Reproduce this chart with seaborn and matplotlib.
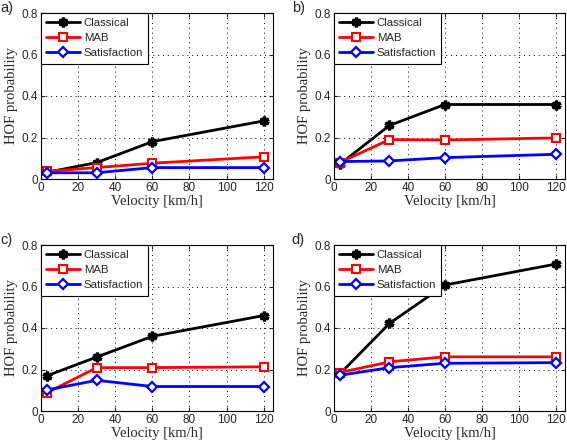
import matplotlib
matplotlib.use("Agg")
import matplotlib.pyplot as plt
import seaborn as sns
import pandas as pd
from matplotlib.lines import Line2D

velocity = [3, 30, 60, 120]
series_names = ["Classical", "MAB", "Satisfaction"]
panel_labels = ["a)", "b)", "c)", "d)"]

a_classical = [0.032, 0.079, 0.18, 0.28]
a_mab = [0.037, 0.055, 0.076, 0.107]
a_satisfaction = [0.03, 0.03, 0.055, 0.055]

b_classical = [0.07, 0.258, 0.359, 0.359]
b_mab = [0.079, 0.19, 0.188, 0.198]
b_satisfaction = [0.084, 0.087, 0.103, 0.119]

c_classical = [0.169, 0.26, 0.36, 0.46]
c_mab = [0.087, 0.209, 0.209, 0.213]
c_satisfaction = [0.101, 0.148, 0.118, 0.118]

d_classical = [0.177, 0.422, 0.607, 0.708]
d_mab = [0.185, 0.237, 0.261, 0.261]
d_satisfaction = [0.172, 0.209, 0.23, 0.233]

panels = [
    (a_classical, a_mab, a_satisfaction),
    (b_classical, b_mab, b_satisfaction),
    (c_classical, c_mab, c_satisfaction),
    (d_classical, d_mab, d_satisfaction),
]

sns.set_style("white")
plt.rcParams["font.family"] = ["Liberation Sans", "DejaVu Sans"]

styles = {
    "Classical": dict(color="black", marker=(6, 2, 0), ms=7, mew=2.4, mfc="black"),
    "MAB": dict(color="#ff0000", marker="s", ms=6, mew=1.5, mfc="white"),
    "Satisfaction": dict(color="#0000ff", marker="D", ms=5.5, mew=1.6, mfc="white"),
}

fig = plt.figure(figsize=(5.67, 4.42), dpi=100)
positions = [
    [41 / 567, 1 - 179 / 442, 232 / 567, 166 / 442],
    [334 / 567, 1 - 179 / 442, 231 / 567, 166 / 442],
    [41 / 567, 1 - 411 / 442, 232 / 567, 166 / 442],
    [334 / 567, 1 - 411 / 442, 231 / 567, 166 / 442],
]
label_pos = [(0, 8), (292, 8), (0, 240), (291, 240)]

for i, (vals, pos) in enumerate(zip(panels, positions)):
    ax = fig.add_axes(pos)
    rows = []
    for name, v in zip(series_names, vals):
        for x, y in zip(velocity, v):
            rows.append({"Velocity": x, "HOF": y, "Scheme": name})
    df = pd.DataFrame(rows)
    for name in series_names:
        st = styles[name]
        sub = df[df["Scheme"] == name]
        sns.lineplot(data=sub, x="Velocity", y="HOF", ax=ax, color=st["color"],
                     linewidth=2, marker=st["marker"], markersize=st["ms"],
                     markeredgewidth=st["mew"], markerfacecolor=st["mfc"],
                     markeredgecolor=st["color"], legend=False)
    ax.set_xlim(0, 125)
    ax.set_ylim(0, 0.8)
    ax.set_xticks([0, 20, 40, 60, 80, 100, 120])
    ax.set_yticks([0, 0.2, 0.4, 0.6, 0.8])
    ax.set_yticklabels(["0", "0.2", "0.4", "0.6", "0.8"])
    ax.grid(True, linestyle=(0, (1, 4)), color="black", linewidth=0.7)
    ax.tick_params(direction="in", length=3, labelsize=8.5, top=True, right=True,
                   bottom=True, left=True, pad=2)
    for s in ax.spines.values():
        s.set_color("black")
        s.set_linewidth(0.8)
    ax.set_xlabel("Velocity [km/h]", family="Liberation Serif", fontsize=10.5, labelpad=1)
    ax.set_ylabel("HOF probability", family="Liberation Serif", fontsize=10.5, labelpad=3)
    handles = [Line2D([0], [0], color=styles[n]["color"], linewidth=2,
                      marker=styles[n]["marker"], markersize=styles[n]["ms"],
                      markeredgewidth=styles[n]["mew"], markerfacecolor=styles[n]["mfc"],
                      markeredgecolor=styles[n]["color"]) for n in series_names]
    leg = ax.legend(handles, series_names, loc="upper left", fontsize=8.2,
                    borderaxespad=0, frameon=True, fancybox=False, framealpha=1,
                    handlelength=3, labelspacing=0.45, borderpad=0.45,
                    handletextpad=0.3)
    leg.get_frame().set_edgecolor("black")
    leg.get_frame().set_linewidth(0.8)
    lx, ly = label_pos[i]
    fig.text(lx / 567, 1 - ly / 442, panel_labels[i], fontsize=10.5,
             ha="left", va="center")

fig.savefig("out.png", dpi=100)
